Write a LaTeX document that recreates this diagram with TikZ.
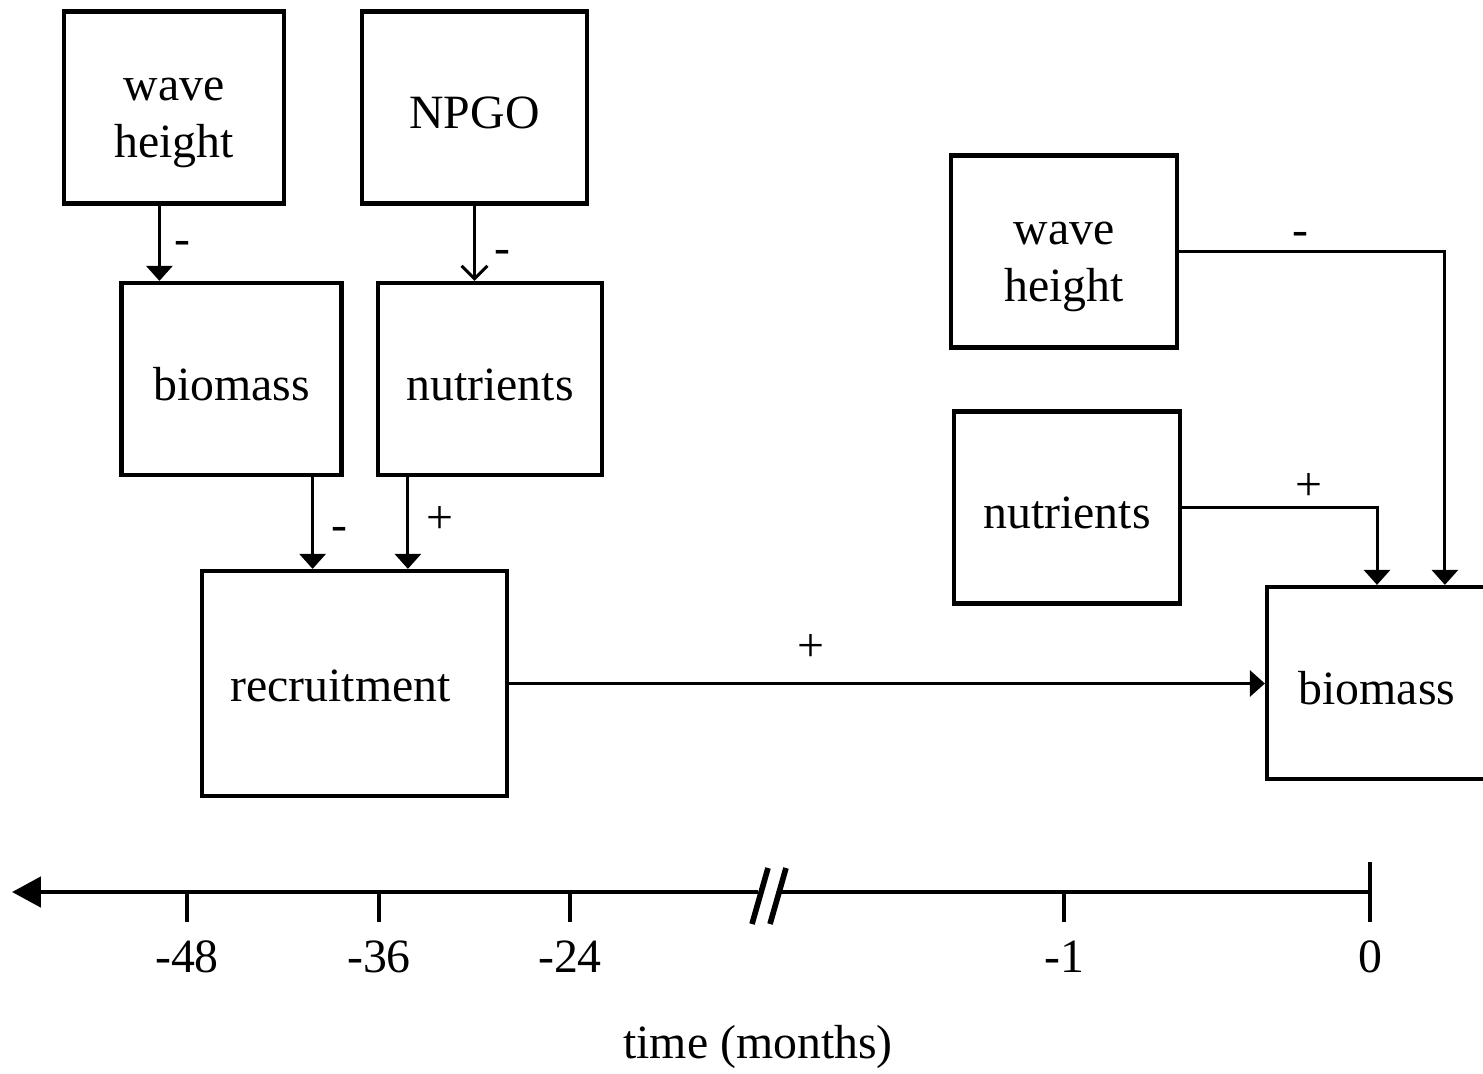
\documentclass[tikz,border=0pt]{standalone}
\usepackage{fontspec}
\setmainfont{Liberation Serif}
\usetikzlibrary{arrows.meta}

\begin{document}
\begin{tikzpicture}[>={Triangle[length=0.15cm,width=0.26cm]},
  font=\fontsize{13.6}{16.2}\selectfont,
  box/.style={draw, line width=1.2pt, align=center, inner sep=0pt,
    minimum width=2.2cm, minimum height=1.92cm, text height=0.42cm, text depth=0cm},
  twoline/.style={text height=1.0cm, text depth=0cm},
  link/.style={->, line width=0.85pt},
  openlink/.style={-{Straight Barb[length=0.13cm,width=0.26cm]}, line width=0.85pt},
  sign/.style={inner sep=0pt},
  minus/.style={sign, yshift=-0.05cm},
  axis/.style={line width=1.4pt}]

\useasboundingbox (0,0) rectangle (14.83,-10.73);
\clip (0,0) rectangle (14.83,-10.73);

\node[box, twoline] (wh1) at (1.74,-1.075) {wave\\height};
\node[box, minimum width=2.25cm] (npgo) at (4.745,-1.075) {NPGO};
\node[box] (bio1) at (2.315,-3.79) {biomass};
\node[box, minimum width=2.24cm] (nut1) at (4.90,-3.79) {nutrients};
\node[box, minimum width=3.05cm, minimum height=2.25cm, text height=0.35cm] (rec) at (3.545,-6.835) {recruitment\hspace*{0.28cm}};
\node[box, twoline, minimum width=2.26cm] (wh2) at (10.64,-2.515) {wave\\height};
\node[box, minimum width=2.26cm] (nut2) at (10.67,-5.075) {nutrients};
\node[box] (bio2) at (13.77,-6.83) {biomass};

\draw[link] ([xshift=0.4cm]bio1.north west |- wh1.south) -- node[minus, xshift=0.23cm] (s1) {-} ([xshift=0.4cm]bio1.north west);
\draw[openlink] (npgo.south) -- node[minus, pos=0.61, xshift=0.28cm] (s2) {-} (npgo.south |- nut1.north);
\draw[link] ([xshift=-0.31cm]bio1.south east) -- node[minus, pos=0.57, xshift=0.27cm] (s3) {-} ([xshift=-0.31cm]bio1.south east |- rec.north);
\draw[link] ([xshift=0.32cm]nut1.south west) -- node[sign, pos=0.47, xshift=0.32cm] (s4) {+} ([xshift=0.32cm]nut1.south west |- rec.north);
\draw[link] (rec.east) -- node[sign, pos=0.4, yshift=0.36cm] (s5) {+} (rec.east -| bio2.west);
\draw[link] (wh2.east) -| node[minus, pos=0.228, yshift=0.18cm] (s6) {-} ([xshift=1.8cm]bio2.north west);
\draw[link] (nut2.east) -| node[sign, pos=0.325, yshift=0.21cm] (s7) {+} (bio2.north);

\draw[axis, {Triangle[length=0.29cm,width=0.3cm]}-] (0.12,-8.92) -- (7.58,-8.92);
\draw[axis] (7.80,-8.92) -- (13.70,-8.92);
\draw[axis, line width=1.6pt] (7.52,-9.24) -- (7.68,-8.68) (7.70,-9.24) -- (7.86,-8.68);
\foreach \x/\t [count=\i] in {1.87/-48, 3.79/-36, 5.70/-24, 10.64/-1}{
  \draw[axis] (\x,-8.92) -- (\x,-9.22);
  \node (lbl\i) at (\x,-9.57) {\t};
}
\draw[axis] (13.70,-8.62) -- (13.70,-9.22);
\node (lbl0) at (13.70,-9.57) {0};
\node (taxis) at (7.58,-10.47) {time (months)};

\end{tikzpicture}
\end{document}
